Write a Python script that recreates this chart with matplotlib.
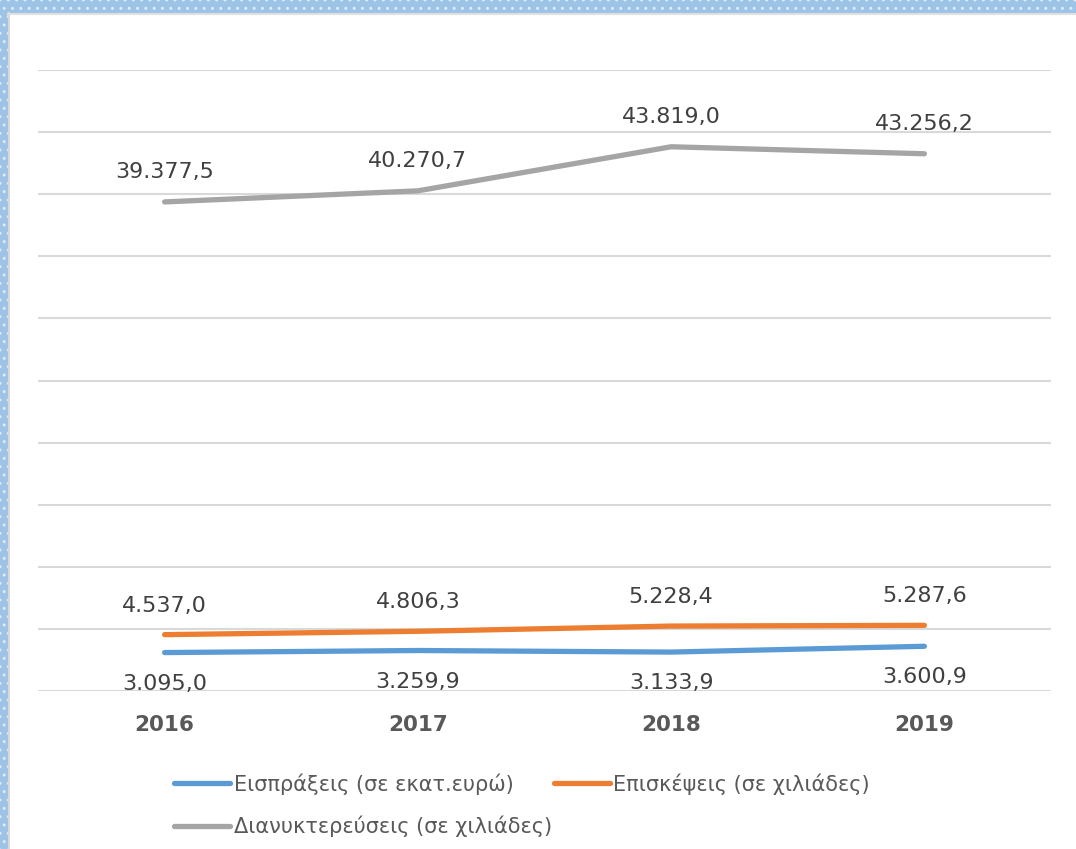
import numpy as np
import matplotlib.pyplot as plt
from matplotlib.patches import Rectangle

years = ['2016', '2017', '2018', '2019']
eispraxeis = [3095.0, 3259.9, 3133.9, 3600.9]
episkepseis = [4537.0, 4806.3, 5228.4, 5287.6]
dianyktereuseis = [39377.5, 40270.7, 43819.0, 43256.2]

names = ['Εισπράξεις (σε εκατ.ευρώ)', 'Επισκέψεις (σε χιλιάδες)',
         'Διανυκτερεύσεις (σε χιλιάδες)']
colours = ['#5B9BD5', '#ED7D31', '#A5A5A5']


def greek_fmt(v):
    s = '{:,.1f}'.format(v)
    return s.replace(',', 'X').replace('.', ',').replace('X', '.')


plt.rcParams['font.family'] = ['DejaVu Sans']

fig = plt.figure(figsize=(10.76, 8.49), dpi=100)

# dotted blue frame (top and left edges)
frame_top = Rectangle((0, 1 - 13/849), 1, 13/849, transform=fig.transFigure,
                      facecolor='#9DC3E6', edgecolor='#DDEBF7', hatch='..',
                      linewidth=0, zorder=0)
frame_left = Rectangle((0, 0), 8/1076, 1, transform=fig.transFigure,
                       facecolor='#9DC3E6', edgecolor='#DDEBF7', hatch='..',
                       linewidth=0, zorder=0)
fig.patches.extend([frame_top, frame_left])
fig.add_artist(plt.Line2D([8.5/1076, 8.5/1076], [0, 1 - 13/849], transform=fig.transFigure,
                          color='#D9D9D9', lw=1.5))
fig.add_artist(plt.Line2D([8/1076, 1], [1 - 14/849, 1 - 14/849], transform=fig.transFigure,
                          color='#E0E0E0', lw=1.5))

ax = fig.add_axes([38/1076, 158/849, 1013/1076, 621/849])

x = np.arange(len(years))
series = [eispraxeis, episkepseis, dianyktereuseis]
lines = []
for vals, name, col in zip(series, names, colours):
    ln, = ax.plot(x, vals, color=col, lw=3.8, solid_capstyle='round', label=name, zorder=3)
    lines.append(ln)

# data labels
for i, v in enumerate(eispraxeis):
    ax.annotate(greek_fmt(v), (x[i], v), xytext=(0, -31), textcoords='offset pixels',
                ha='center', va='center', fontsize=16, color='#404040')
for i, v in enumerate(episkepseis):
    ax.annotate(greek_fmt(v), (x[i], v), xytext=(0, 29), textcoords='offset pixels',
                ha='center', va='center', fontsize=16, color='#404040')
for i, v in enumerate(dianyktereuseis):
    ax.annotate(greek_fmt(v), (x[i], v), xytext=(0, 30), textcoords='offset pixels',
                ha='center', va='center', fontsize=16, color='#404040')

ax.set_xlim(-0.5, 3.5)
ax.set_ylim(0, 50000)
ax.set_yticks(np.arange(0, 50001, 5000))
ax.set_yticklabels([])
ax.grid(axis='y', color='#D9D9D9', lw=1.5)
ax.set_axisbelow(True)
ax.tick_params(length=0)
ax.set_xticks(x)
ax.set_xticklabels(years, fontsize=15.5, fontweight='bold', color='#595959')
ax.tick_params(axis='x', pad=17)
for s in ax.spines.values():
    s.set_visible(False)

handles = [lines[0], lines[2], lines[1]]
fig.legend(handles, [h.get_label() for h in handles], ncol=2, frameon=False,
           loc='center', bbox_to_anchor=(522/1076, 1 - 805/849), fontsize=15,
           labelcolor='#595959', handlelength=2.7, handletextpad=0.15,
           columnspacing=0.1, labelspacing=1.0)

fig.savefig('out.png', dpi=100, facecolor='white')
